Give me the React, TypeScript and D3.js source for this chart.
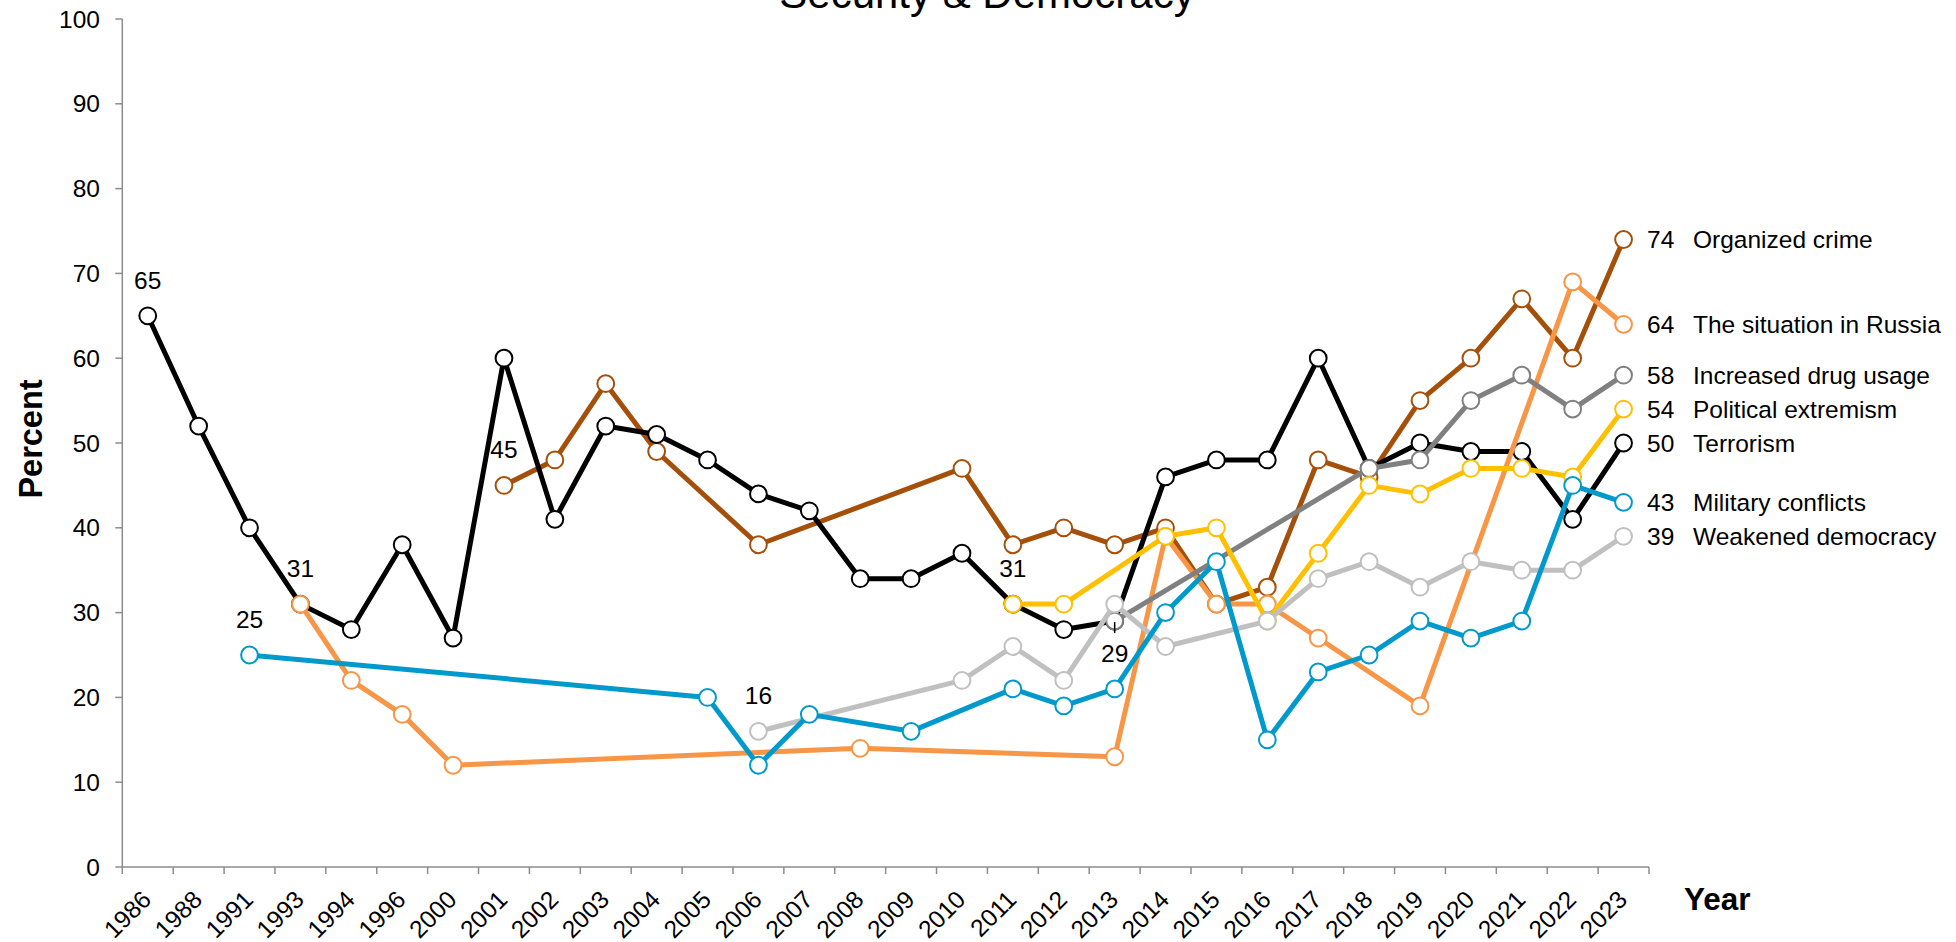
import React from "react";
import * as d3 from "d3";

const YEARS = ["1986","1988","1991","1993","1994","1996","2000","2001","2002","2003","2004","2005","2006","2007","2008","2009","2010","2011","2012","2013","2014","2015","2016","2017","2018","2019","2020","2021","2022","2023"];
const N = null;

const organizedCrime = [N,N,N,N,N,N,N,45,48,57,49,N,38,N,N,N,47,38,40,38,40,31,33,48,46,55,60,67,60,74];
const situationInRussia = [N,N,N,31,22,18,12,N,N,N,N,N,N,N,14,N,N,N,N,13,39,31,31,27,N,19,N,N,69,64];
const increasedDrugUsage = [N,N,N,N,N,N,N,N,N,N,N,N,N,N,N,N,N,N,N,29,N,N,N,N,47,48,55,58,54,58];
const politicalExtremism = [N,N,N,N,N,N,N,N,N,N,N,N,N,N,N,N,N,31,31,N,39,40,29,37,45,44,47,47,46,54];
const terrorism = [65,52,40,31,28,38,27,60,41,52,51,48,44,42,34,34,37,31,28,29,46,48,48,60,47,50,49,49,41,50];
const militaryConflicts = [N,N,25,N,N,N,N,N,N,N,N,20,12,18,N,16,N,21,19,21,30,36,15,23,25,29,27,29,45,43];
const weakenedDemocracy = [N,N,N,N,N,N,N,N,N,N,N,N,16,N,N,N,22,26,22,31,26,N,29,34,36,33,36,35,35,39];

const Y_TICKS = [0,10,20,30,40,50,60,70,80,90,100];

const SERIES = [
  { name: "Organized crime", values: organizedCrime, color: "#A5500A" },
  { name: "The situation in Russia", values: situationInRussia, color: "#F79646" },
  { name: "Increased drug usage", values: increasedDrugUsage, color: "#808080" },
  { name: "Political extremism", values: politicalExtremism, color: "#FFC000" },
  { name: "Terrorism", values: terrorism, color: "#000000" },
  { name: "Military conflicts", values: militaryConflicts, color: "#0099CC" },
  { name: "Weakened democracy", values: weakenedDemocracy, color: "#C0C0C0" },
];

// drawing order (bottom to top)
const DRAW_ORDER = ["Organized crime","Terrorism","The situation in Russia","Increased drug usage","Political extremism","Weakened democracy","Military conflicts"];

// point annotations: series, year
const ANNOTATIONS = [
  { series: "Terrorism", year: "1986", below: false },
  { series: "Military conflicts", year: "1991", below: false },
  { series: "The situation in Russia", year: "1993", below: false },
  { series: "Organized crime", year: "2001", below: false },
  { series: "Weakened democracy", year: "2006", below: false },
  { series: "Political extremism", year: "2011", below: false },
  { series: "Increased drug usage", year: "2013", below: true },
];

const FONT = "'Liberation Sans', Arial, Helvetica, sans-serif";

export default function App() {
  const W = 1956, H = 942;
  const left = 122.3, right = 1649, top = 19, bottom = 867;
  const x = d3.scaleBand<string>().domain(YEARS).range([left, right]).padding(0);
  const y = d3.scaleLinear().domain([0, 100]).range([bottom, top]);
  const cx = (yr: string) => (x(yr) as number) + x.bandwidth() / 2;

  const line = d3.line<{ yr: string; v: number }>().x(d => cx(d.yr)).y(d => y(d.v));

  const pts = (s: typeof SERIES[number]) =>
    s.values.map((v, i) => ({ yr: YEARS[i], v })).filter(d => d.v !== null) as { yr: string; v: number }[];

  const ordered = DRAW_ORDER.map(n => SERIES.find(s => s.name === n)!);
  const boundaries = [...YEARS.map(yr => x(yr) as number), right];
  const axisColor = "#8C8C8C";
  const fs = 24.5;

  return (
    <svg width={W} height={H} style={{ position: "absolute", left: 0, top: 0, display: "block", background: "#fff" }} fontFamily={FONT}>
      <rect x={0} y={0} width={W} height={H} fill="#fff" />
      <text x={987} y={8} textAnchor="middle" fontSize={42} fill="#000">Security &amp; Democracy</text>

      {/* y axis */}
      <line x1={left} x2={left} y1={top} y2={bottom} stroke={axisColor} strokeWidth={1.5} />
      {Y_TICKS.map(t => (
        <g key={t}>
          <line x1={left - 7} x2={left} y1={y(t)} y2={y(t)} stroke={axisColor} strokeWidth={1.5} />
          <text x={100} y={y(t)} dy="0.35em" textAnchor="end" fontSize={fs} fill="#000">{t}</text>
        </g>
      ))}
      {/* x axis */}
      <line x1={left} x2={right} y1={bottom} y2={bottom} stroke={axisColor} strokeWidth={1.5} />
      {boundaries.map((bx, i) => (
        <line key={i} x1={bx} x2={bx} y1={bottom} y2={bottom + 7} stroke={axisColor} strokeWidth={1.5} />
      ))}
      {YEARS.map(yr => (
        <text key={yr} transform={`translate(${cx(yr) + 5},${bottom + 34}) rotate(-45)`} textAnchor="end" fontSize={fs} fill="#000">{yr}</text>
      ))}

      <text transform={`translate(42,439) rotate(-90)`} textAnchor="middle" fontSize={32.5} fontWeight="bold" fill="#000">Percent</text>
      <text x={1684} y={910} fontSize={31.5} fontWeight="bold" fill="#000">Year</text>

      {/* series */}
      {ordered.map(s => {
        const p = pts(s);
        return (
          <g key={s.name}>
            <path d={line(p) || ""} fill="none" stroke={s.color} strokeWidth={5} strokeLinejoin="round" />
            {p.map(d => (
              <circle key={d.yr} cx={cx(d.yr)} cy={y(d.v)} r={8.4} fill="#fff" stroke={s.color} strokeWidth={2} />
            ))}
          </g>
        );
      })}

      {/* annotations */}
      {ANNOTATIONS.map(a => {
        const s = SERIES.find(ss => ss.name === a.series)!;
        const v = s.values[YEARS.indexOf(a.year)] as number;
        const px = cx(a.year), py = y(v);
        return (
          <g key={a.series + a.year}>
            {a.below && <line x1={px} x2={px} y1={py + 1} y2={py + 12} stroke="#000" strokeWidth={1.5} />}
            <text x={px} y={a.below ? py + 41 : py - 27} textAnchor="middle" fontSize={fs} fill="#000">{v}</text>
          </g>
        );
      })}

      {/* end labels */}
      {SERIES.map(s => {
        const v = s.values[s.values.length - 1] as number;
        return (
          <g key={s.name}>
            <text x={1647} y={y(v)} dy="0.35em" fontSize={fs} fill="#000">{v}</text>
            <text x={1693} y={y(v)} dy="0.35em" fontSize={fs} fill="#000">{s.name}</text>
          </g>
        );
      })}
    </svg>
  );
}
